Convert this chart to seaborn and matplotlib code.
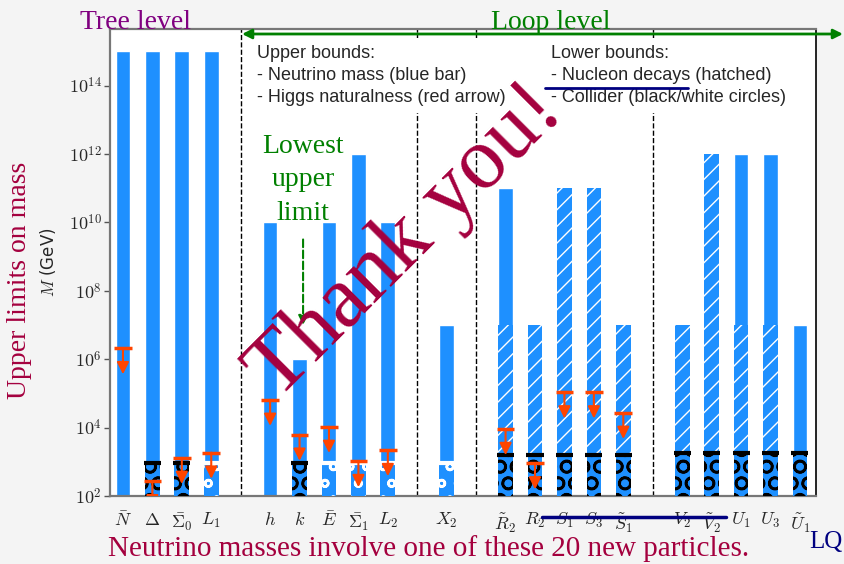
import numpy as np
import pandas as pd
import seaborn as sns
import matplotlib.pyplot as plt
from matplotlib.patches import FancyArrowPatch
from matplotlib.lines import Line2D
from matplotlib.ticker import FuncFormatter

nan = np.nan

labels = [r'$\bar{N}$', r'$\Delta$', r'$\bar{\Sigma}_0$', r'$L_1$',
          r'$h$', r'$k$', r'$\bar{E}$', r'$\bar{\Sigma}_1$', r'$L_2$',
          r'$X_2$',
          r'$\tilde{R}_2$', r'$R_2$', r'$S_1$', r'$S_3$', r'$\tilde{S}_1$',
          r'$V_2$', r'$\tilde{V}_2$', r'$U_1$', r'$U_3$', r'$\tilde{U}_1$']
pos = [0, 1, 2, 3, 5, 6, 7, 8, 9, 11, 13, 14, 15, 16, 17, 19, 20, 21, 22, 23]

# upper bound from neutrino mass (blue bar)
nu_mass = [1e15, 1e15, 1e15, 1e15, 1e10, 1e6, 1e10, 1e12, 1e10, 1e7,
           1e11, 1e7, 1e11, 1e11, 1e7, 1e7, 1e12, 1e12, 1e12, 1e7]
# nucleon decay lower bound (hatched)
nucleon = [nan, nan, nan, nan, nan, nan, nan, nan, nan, nan,
           1e7, 1e7, 1e11, 1e11, 1e7, 1e7, 1e12, 1e7, 1e7, nan]
# collider lower bound (circles)
collider = [nan, 900, 900, 900, nan, 900, 900, 900, 900, 900,
            1600, 1600, 1600, 1600, 1600, 1800, 1800, 1800, 1800, 1800]
collider_kind = ['', 'black', 'black', 'white', '', 'black', 'white', 'white', 'white', 'white',
                 'black', 'black', 'black', 'black', 'black',
                 'black', 'black', 'black', 'black', 'black']
# Higgs naturalness upper bound (red arrow)
higgs = [2.1e6, 270, 1300, 1850, 6.5e4, 6200, 1.05e4, 1050, 2200, nan,
         9100, 900, 1.07e5, 1.07e5, 2.7e4, nan, nan, nan, nan, nan]
yticks = [1e2, 1e4, 1e6, 1e8, 1e10, 1e12, 1e14]

df = pd.DataFrame({'pos': pos, 'label': labels, 'nu': nu_mass, 'nucleon': nucleon,
                   'collider': collider, 'kind': collider_kind, 'higgs': higgs})

sns.set_theme(style='ticks')
plt.rcParams['mathtext.fontset'] = 'cm'
plt.rcParams['font.family'] = ['DejaVu Sans']

W, H = 844, 564
crimson = '#a4003e'
blue = '#1e90ff'

fig = plt.figure(figsize=(W / 100, H / 100), dpi=100, facecolor='#f4f4f4')
ax = fig.add_axes([110 / W, 1 - 496 / H, (815.5 - 110) / W, (496 - 29) / H])
ax.set_facecolor('white')

for xv in [4, 10, 12, 18]:
    ax.axvline(xv, color='black', ls='--', lw=1, zorder=1)

sns.barplot(data=df, x='pos', y='nu', native_scale=True, width=0.5, color=blue,
            saturation=1, errorbar=None, ax=ax, zorder=2)


def layer(sub, hatch, ecolor, hlw):
    n0 = len(ax.patches)
    sns.barplot(data=sub, x='pos', y='val', native_scale=True, width=0.5, color=blue,
                saturation=1, errorbar=None, ax=ax, zorder=3)
    for p in ax.patches[n0:]:
        p.set_hatch(hatch)
        p.set_edgecolor(ecolor)
        p.set_linewidth(0)
        if hasattr(p, 'set_hatch_linewidth'):
            p.set_hatch_linewidth(hlw)


hat = df.dropna(subset=['nucleon']).rename(columns={'nucleon': 'val'})
layer(hat, '//', 'white', 1.0)

blk = df[df['kind'] == 'black'].rename(columns={'collider': 'val'})
layer(blk, 'O', 'black', 1.8)
wht = df[df['kind'] == 'white'].rename(columns={'collider': 'val'})
layer(wht, 'o', 'white', 1.8)

for _, r in df.dropna(subset=['collider']).iterrows():
    ax.hlines(r['collider'], r['pos'] - 0.29, r['pos'] + 0.29, color=r['kind'], lw=3, zorder=4)

for _, r in df.dropna(subset=['higgs']).iterrows():
    ax.hlines(r['higgs'], r['pos'] - 0.3, r['pos'] + 0.3, color='orangered', lw=2.5, zorder=5)
    ax.add_patch(FancyArrowPatch((r['pos'], r['higgs']), (r['pos'], r['higgs'] / 5.8),
                                 arrowstyle='-|>', mutation_scale=18, lw=1.5,
                                 color='orangered', shrinkA=0, shrinkB=0, zorder=5))

ax.set_yscale('log')
ax.set_ylim(1e2, 4.5e15)
ax.set_xlim(-0.44, 23.53)
ax.set_yticks(yticks)
ax.yaxis.set_major_formatter(FuncFormatter(lambda v, _: r'$10^{%d}$' % round(np.log10(v))))
ax.minorticks_off()
ax.set_xticks(pos, labels)
ax.tick_params(axis='x', length=0, pad=11, labelsize=13)
ax.tick_params(axis='y', length=4, width=1, color='#555', labelsize=13, pad=2)
ax.set_xlabel('')
ax.set_ylabel(r'$M$ (GeV)', fontsize=12)
ax.yaxis.set_label_coords(-0.074, 0.5)
for side in ['left', 'bottom', 'top']:
    ax.spines[side].set_color('#777')
    ax.spines[side].set_linewidth(1.6)
ax.spines['right'].set_color('black')
ax.spines['right'].set_linewidth(1.2)

# lowest upper limit arrow
ax.add_patch(FancyArrowPatch((6.12, 10 ** 9.5), (6.12, 10 ** 7.0), arrowstyle='-|>',
                             mutation_scale=14, lw=1.5, ls='--', color='green',
                             shrinkA=0, shrinkB=0, zorder=6))


def fx(px):
    return px / W


def fy(py):
    return 1 - py / H


serif = 'Liberation Serif'
fig.text(fx(257), fy(45), 'Upper bounds:\n- Neutrino mass (blue bar)\n- Higgs naturalness (red arrow)',
         family='Liberation Sans', fontsize=13, va='top', ha='left', linespacing=1.38,
         bbox=dict(facecolor='white', edgecolor='none', pad=5), zorder=7)
fig.text(fx(551), fy(45), 'Lower bounds:\n- Nucleon decays (hatched)\n- Collider (black/white circles)',
         family='Liberation Sans', fontsize=13, va='top', ha='left', linespacing=1.38,
         bbox=dict(facecolor='white', edgecolor='none', pad=5), zorder=7)
fig.add_artist(Line2D([fx(545), fx(688)], [fy(88), fy(88)], color='navy', lw=2, zorder=8))
fig.add_artist(Line2D([fx(542), fx(726)], [fy(517), fy(517)], color='navy', lw=2.5, zorder=8))

fig.text(fx(303), fy(180), 'Lowest\nupper\nlimit', family=serif, fontsize=20, color='green',
         ha='center', va='center', linespacing=1.45, zorder=8)

fig.text(fx(135), fy(29), 'Tree level', family=serif, fontsize=20, color='purple',
         ha='center', va='baseline')
fig.text(fx(551), fy(29), 'Loop level', family=serif, fontsize=20, color='green',
         ha='center', va='baseline')
fig.add_artist(FancyArrowPatch((fx(242), fy(34)), (fx(843), fy(34)), transform=fig.transFigure,
                               arrowstyle='<|-|>', mutation_scale=14, lw=2, color='green',
                               shrinkA=0, shrinkB=0, zorder=8))

fig.text(fx(20), fy(280), 'Upper limits on mass', family=serif, fontsize=20, color=crimson,
         rotation=90, ha='center', va='center')
fig.text(fx(429), fy(556), 'Neutrino masses involve one of these 20 new particles.',
         family=serif, fontsize=21, color=crimson, ha='center', va='baseline')
fig.text(fx(826), fy(548), 'LQ', family=serif, fontsize=18, color='navy',
         ha='center', va='baseline')

fig.text(fx(406), fy(242), 'Thank you!', family=serif, fontsize=63, color=crimson,
         rotation=45, rotation_mode='anchor', ha='center', va='center', zorder=10)

fig.savefig('out.png', dpi=100, facecolor=fig.get_facecolor())
